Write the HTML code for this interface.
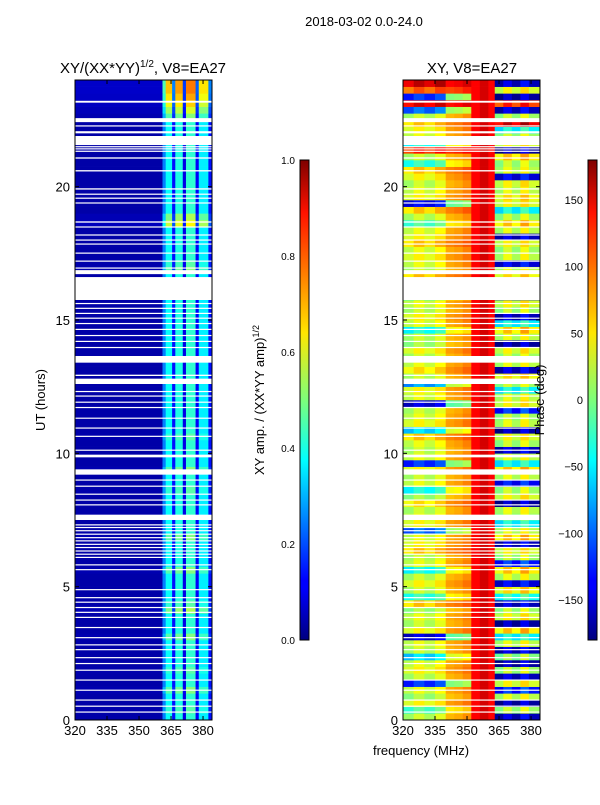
<!DOCTYPE html>
<html><head><meta charset="utf-8">
<style>
body{margin:0;background:#fff;}
svg text{font-family:"Liberation Sans",sans-serif;fill:#000;}
</style></head>
<body>
<svg id="fig" width="600" height="800" xmlns="http://www.w3.org/2000/svg">
<rect width="600" height="800" fill="#fff"/>
<text x="364" y="26" font-size="13" text-anchor="middle">2018-03-02 0.0-24.0</text>
<text x="143" y="73" font-size="15" text-anchor="middle">XY/(XX*YY)<tspan font-size="10" dy="-6">1/2</tspan><tspan dy="6">, V8=EA27</tspan></text>
<text x="472" y="73" font-size="15" text-anchor="middle">XY, V8=EA27</text>
<text transform="translate(45,400) rotate(-90)" font-size="13" text-anchor="middle">UT (hours)</text>
<text x="421" y="755" font-size="13" text-anchor="middle">frequency (MHz)</text>
<text transform="translate(264,400) rotate(-90)" font-size="13" text-anchor="middle">XY amp. / (XX*YY amp)<tspan font-size="9" dy="-5">1/2</tspan></text>
<g id="left"></g>
<g id="right"></g>
<g id="axes"></g>
<text transform="translate(544,400) rotate(-90)" font-size="13" text-anchor="middle">Phase (deg)</text>
<defs><linearGradient id="jet" x1="0" y1="1" x2="0" y2="0">
<stop offset="0" stop-color="#00007f"/><stop offset="0.11" stop-color="#0000ff"/><stop offset="0.125" stop-color="#0000ff"/>
<stop offset="0.34" stop-color="#00dcff"/><stop offset="0.375" stop-color="#00ffff"/><stop offset="0.5" stop-color="#7dff7a"/>
<stop offset="0.64" stop-color="#ffe600"/><stop offset="0.66" stop-color="#ffd400"/><stop offset="0.89" stop-color="#ff1200"/><stop offset="1" stop-color="#7f0000"/>
</linearGradient></defs>
<rect x="300" y="160" width="9" height="480" fill="url(#jet)" stroke="#000" stroke-width="1"/>
<rect x="588" y="160" width="9" height="480" fill="url(#jet)" stroke="#000" stroke-width="1"/>
</svg>
<script>
// ---- data ----
const hoursStep = 0.25;
const freqStart = 320, freqEnd = 384.2;
const ampColFreq = [320,361,362.5,365.5,367,370.5,372,376.5,378,382.5];
const ampColValue = [0.04,0.25,0.38,0.14,0.4,0.1,0.42,0.12,0.36,0.14];
const ampRowGain = [1,1.1,1,1,1.2,1,1,1.1,1,1,1,1,1.2,1,1,1,1.3,1.1,1,1,1,1,1.2,1,
1,1,1,1.2,1,1,1,1,1,1,1.1,1,1,1.2,1,1,1,1,1.1,1,1,1,1,1,
1,1,1,1,1,1,1,1,1,1,1,1,1,1,1,1,1,1,1,1.2,1.1,1,1,1,1,1,1.5,1.3,
1,1,1,1,1,1,1,1,1,1,1,1,1,1,1.2,1.4,1.6,1.7,1.8,1.8];
const phaseColFreq = [320,325,330,335,340,344,348,352,356,360,363,367,371,375,379];
const phaseColOffset = [-10,10,-5,15,20,25,35,0,0,0,-20,10,-15,20,-10];
const phaseA = [20,-20,40,10,30,-120,20,40,30,-60,20,30,-150,40,20,30,10,60,-30,20,
 40,20,-40,30,20,60,40,30,-100,40,30,20,50,10,-40,30,20,40,-120,30,
 20,30,60,-60,40,30,20,-150,30,40,-80,20,50,30,20,40,10,20,-40,30,
 40,20,30,-30,40,20,60,20,30,40,30,60,40,30,-20,20,60,-140,40,30,
 20,40,60,-30,20,120,-40,30,40,60,20,-100,140,-120,100,150];
const phaseD = [-150,20,-160,30,-120,40,-150,20,-160,10,-150,30,-40,60,-160,40,20,-150,-30,50,
 -140,30,60,-120,20,40,-150,60,30,-40,20,30,-160,40,20,-130,30,60,-40,30,
 -150,20,40,-160,30,20,-120,40,30,-40,20,50,-150,30,20,40,-160,30,60,-40,
 -150,20,40,-120,30,20,50,30,-140,30,20,40,-150,30,60,20,-40,40,50,30,
 40,-140,30,20,60,-160,40,20,-40,150,20,-150,120,-160,40,-150];
const blankIntervals = [[23.15,23.22],[22.42,22.57],[22.27,22.3],[22.0,22.08],[21.56,21.9],[21.48,21.52],[21.4,21.44],[21.31,21.35],[21.05,21.1],
[20.57,20.62],[19.89,19.94],[19.7,19.74],[19.55,19.59],[19.37,19.41],[18.65,18.7],[18.47,18.51],[18.17,18.21],[17.98,18.02],[17.83,17.87],[17.49,17.53],[17.19,17.23],[16.93,16.97],[16.72,16.87],[15.75,16.61],
[15.6,15.64],[15.42,15.46],[15.23,15.27],[15.05,15.09],[14.85,14.89],[14.63,14.67],[14.4,14.44],[14.18,14.22],[13.95,13.99],[13.4,13.65],[12.9,12.95],[12.6,12.8],[12.3,12.34],[12.13,12.17],[11.9,11.94],[11.7,11.74],[11.3,11.34],[10.93,10.97],[10.62,10.66],[10.1,10.14],[9.85,9.95],[9.2,9.4],[8.98,9.02],[8.75,8.79],[8.45,8.49],[8.23,8.27],[8.05,8.09],[7.5,7.7],[7.3,7.34],[7.2,7.24],[7.08,7.12],
[6.95,6.99],[6.82,6.86],[6.7,6.74],[6.57,6.61],[6.45,6.49],[6.32,6.36],[6.2,6.24],[6.08,6.12],[5.8,5.84],[5.62,5.66],[4.87,4.91],[4.57,4.61],[4.4,4.44],[4.2,4.24],[4.02,4.06],[3.83,3.87],[3.45,3.49],[3.07,3.11],[2.8,2.84],[2.62,2.66],[2.32,2.36],[2.1,2.14],[1.85,1.89],[1.48,1.52],[1.1,1.14],[0.73,0.77],[0.5,0.54],[0.28,0.32]];
const ampTicks = [0,0.2,0.4,0.6,0.8,1.0];
const phaseTicks = [150,100,50,0,-50,-100,-150];
const xTicks = [320,335,350,365,380];
const yTicks = [0,5,10,15,20];
// ---- scales ----
const NS="http://www.w3.org/2000/svg";
const panels={left:{x0:75,x1:212},right:{x0:403,x1:540}};
const yTop=80,yBot=720;
function yS(h){return yBot-(h/24)*(yBot-yTop);}
function xS(p,f){return p.x0+(f-freqStart)/(freqEnd-freqStart)*(p.x1-p.x0);}
function ampY(v){return 640-v*480;}
function phY(v){return 400-v*480/360;}
function jet(t){t=Math.max(0,Math.min(1,t));
 const r=Math.max(0,Math.min(1,1.5-Math.abs(4*t-3))),g=Math.max(0,Math.min(1,1.5-Math.abs(4*t-2))),b=Math.max(0,Math.min(1,1.5-Math.abs(4*t-1)));
 return `rgb(${Math.round(r*255)},${Math.round(g*255)},${Math.round(b*255)})`;}
function mk(tag,at,parent){const e=document.createElementNS(NS,tag);for(const k in at)e.setAttribute(k,at[k]);parent.appendChild(e);return e;}
const L=document.getElementById('left'),R=document.getElementById('right'),A=document.getElementById('axes');
const nRows=ampRowGain.length;
for(let r=0;r<nRows;r++){
 const y1=yS((r+1)*hoursStep),y0=yS(r*hoursStep);
 for(let c=0;c<ampColFreq.length;c++){
  const fa=ampColFreq[c],fb=c+1<ampColFreq.length?ampColFreq[c+1]:freqEnd;
  const v=ampColValue[c]*ampRowGain[r];
  const e=mk('rect',{x:xS(panels.left,fa),y:y1,width:xS(panels.left,fb)-xS(panels.left,fa)+0.3,height:y0-y1+0.3,fill:jet(Math.min(1,v))},L);
  
  
 }
 for(let c=0;c<phaseColFreq.length;c++){
  const fa=phaseColFreq[c],fb=c+1<phaseColFreq.length?phaseColFreq[c+1]:freqEnd;
  let v;
  if(fa<340)v=phaseA[r]+phaseColOffset[c];
  else if(fa<352)v=phaseA[r]*0.5+40+phaseColOffset[c];
  else if(fa<363)v=150-(c%2)*15;
  else v=phaseD[r]+phaseColOffset[c];
  v=((v+180)%360+360)%360-180;
  const e=mk('rect',{x:xS(panels.right,fa),y:y1,width:xS(panels.right,fb)-xS(panels.right,fa)+0.3,height:y0-y1+0.3,fill:jet((v+180)/360)},R);
  
  
 }
}
for(const [a,b] of blankIntervals){
 for(const p of [panels.left,panels.right]){
  const e=mk('rect',{x:p.x0,y:yS(b),width:p.x1-p.x0,height:Math.max(1.2,yS(a)-yS(b)),fill:'#fff'},A);
  
  
 }
}
for(const k of ['left','right']){
 const p=panels[k];
 const fr=mk('rect',{x:p.x0,y:yTop,width:p.x1-p.x0,height:yBot-yTop,fill:'none',stroke:'#000','stroke-width':1},A);
 
 
 for(const f of xTicks){const x=xS(p,f);
  mk('line',{x1:x,x2:x,y1:yBot,y2:yBot-4,stroke:'#000'},A);mk('line',{x1:x,x2:x,y1:yTop,y2:yTop+4,stroke:'#000'},A);
  const t=mk('text',{x:x,y:yBot+15,'font-size':13,'text-anchor':'middle'},A);t.textContent=f;
  
  }
 for(const h of yTicks){const y=yS(h);
  mk('line',{x1:p.x0,x2:p.x0+4,y1:y,y2:y,stroke:'#000'},A);mk('line',{x1:p.x1,x2:p.x1-4,y1:y,y2:y,stroke:'#000'},A);
  const t=mk('text',{x:p.x0-5,y:y+5,'font-size':13,'text-anchor':'end'},A);t.textContent=h;
  
  }
}
for(const v of ampTicks){const y=ampY(v);
 mk('line',{x1:300,x2:304,y1:y,y2:y,stroke:'#000'},A);mk('line',{x1:309,x2:305,y1:y,y2:y,stroke:'#000'},A);
 const t=mk('text',{x:295,y:y+4,'font-size':10,'text-anchor':'end'},A);t.textContent=v.toFixed(1);
 
 }
for(const v of phaseTicks){const y=phY(v);
 mk('line',{x1:588,x2:592,y1:y,y2:y,stroke:'#000'},A);mk('line',{x1:597,x2:593,y1:y,y2:y,stroke:'#000'},A);
 const t=mk('text',{x:583,y:y+4,'font-size':11,'text-anchor':'end'},A);t.textContent=v<0?'\u2212'+(-v):String(v);
 
 }
</script>
</body></html>
